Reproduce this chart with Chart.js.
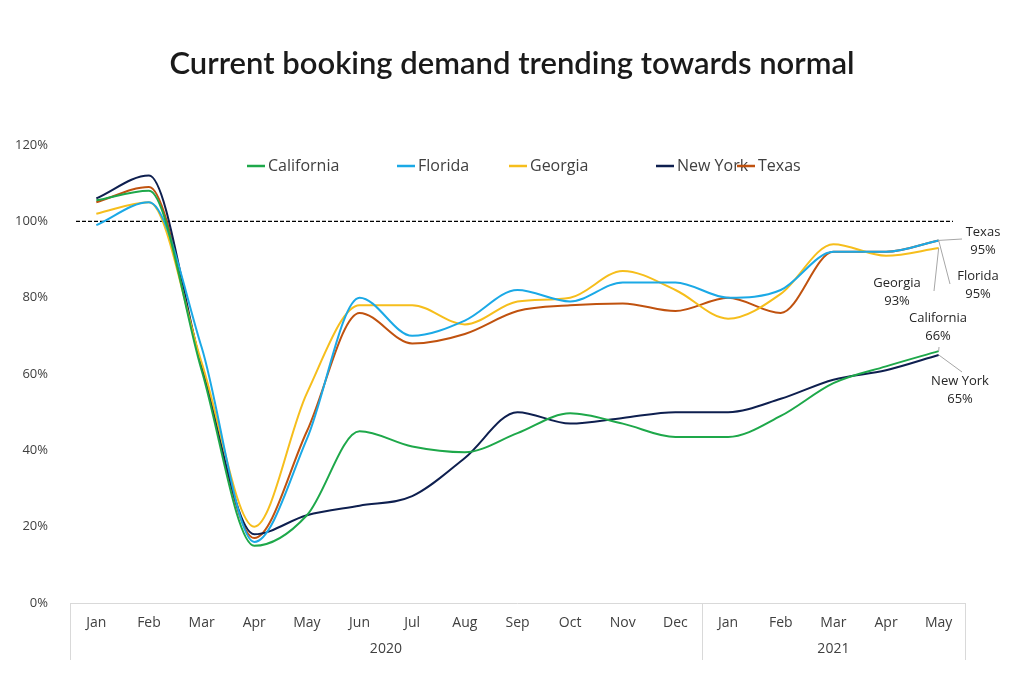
<!DOCTYPE html>
<html><head><meta charset="utf-8">
<script src="https://cdn.jsdelivr.net/npm/chart.js@4"></script>
<style>html,body{margin:0;padding:0;background:#fff}#wrap{width:1024px;height:684px}</style>
</head><body><div id="wrap"><canvas id="c" width="1024" height="684"></canvas></div>
<script>
const months = ['Jan','Feb','Mar','Apr','May','Jun','Jul','Aug','Sep','Oct','Nov','Dec','Jan','Feb','Mar','Apr','May'];
const years = [{label:'2020',from:0,to:11},{label:'2021',from:12,to:16}];
const california = [105.5,108,61,15,23,45,41,39.5,44.5,49.7,47,43.5,43.5,49,57.6,62,66];
const florida = [99,105,67,16,43,80,70,74,82,79,84,84,80,82,92,92,95];
const georgia = [102,105,63,20,55,78,78,73,79,80,87,82,74.5,81,94,91,93];
const newYork = [106,112,62,18,23,25.5,28,38,50,47,48.5,50,50,53.5,58.5,61,65];
const texas = [105,109,62,17,45,76,68,70.5,76.5,78,78.5,76.5,80,76,92,92,95];
const endLabels = [
 {name:'Texas',val:'95%',series:4,tx:983,ty:232,lx2:962,ly2:239},
 {name:'Florida',val:'95%',series:1,tx:978,ty:276,lx2:950,ly2:284},
 {name:'Georgia',val:'93%',series:2,tx:897,ty:283,lx2:934,ly2:291},
 {name:'California',val:'66%',series:0,tx:938,ty:318,lx2:939,ly2:347},
 {name:'New York',val:'65%',series:3,tx:960,ty:381,lx2:962,ly2:372}
];
const title = 'Current booking demand trending towards normal';
const FONT = "'Liberation Sans Narrow','Open Sans','DejaVu Sans Condensed',sans-serif";

const mk = (label,data,color)=>({label,data,borderColor:color,backgroundColor:color,borderWidth:2,pointRadius:0,tension:0.4,cubicInterpolationMode:'monotone',fill:false});

const deco = {
 id:'deco',
 beforeDatasetsDraw(chart){
  const {ctx,scales:{x,y}} = chart;
  ctx.save();
  ctx.strokeStyle='#000';ctx.lineWidth=1.2;ctx.setLineDash([4,2]);
  ctx.beginPath();ctx.moveTo(76,y.getPixelForValue(100));ctx.lineTo(953,y.getPixelForValue(100));ctx.stroke();
  ctx.restore();
 },
 afterDraw(chart){
  const {ctx,scales:{x,y},chartArea:a} = chart;
  ctx.save();
  ctx.fillStyle='#1a1a1a';ctx.font="600 31px Lato, sans-serif";ctx.textAlign='center';ctx.textBaseline='middle';
  ctx.fillText(title,512,64);
  ctx.strokeStyle='#d9d9d9';ctx.lineWidth=1;
  const half=(x.getPixelForValue(1)-x.getPixelForValue(0))/2;
  const bounds=[x.getPixelForValue(0)-half,x.getPixelForValue(12)-half,x.getPixelForValue(16)+half];
  ctx.beginPath();
  bounds.forEach(b=>{ctx.moveTo(Math.round(b)+0.5,a.bottom);ctx.lineTo(Math.round(b)+0.5,660);});
  ctx.moveTo(bounds[0],a.bottom+0.5);ctx.lineTo(bounds[2],a.bottom+0.5);
  ctx.stroke();
  ctx.fillStyle='#404040';ctx.font="14px "+FONT;
  years.forEach(yr=>{const cx=(x.getPixelForValue(yr.from)+x.getPixelForValue(yr.to))/2;ctx.fillText(yr.label,cx,649);});
  const ds=chart.data.datasets;const lx=[268,418,530,677,758];
  ctx.font="16px "+FONT;ctx.textAlign='left';
  ds.forEach((d,i)=>{ctx.strokeStyle=d.borderColor;ctx.lineWidth=2.5;ctx.beginPath();ctx.moveTo(lx[i]-21,166);ctx.lineTo(lx[i]-3,166);ctx.stroke();
   ctx.fillStyle='#404040';ctx.fillText(d.label,lx[i],166);});
  ctx.strokeStyle='#a6a6a6';ctx.lineWidth=1;ctx.fillStyle='#262626';ctx.font="13px "+FONT;ctx.textAlign='center';
  endLabels.forEach(l=>{
   const px=x.getPixelForValue(16),py=y.getPixelForValue(ds[l.series].data[16]);
   ctx.beginPath();ctx.moveTo(px,py);ctx.lineTo(l.lx2,l.ly2);ctx.stroke();
   ctx.fillText(l.name,l.tx,l.ty);ctx.fillText(l.val,l.tx,l.ty+18);
  });
  ctx.restore();
 }
};

new Chart(document.getElementById('c'),{
 type:'line',
 data:{labels:months,datasets:[mk('California',california,'#1ea84a'),mk('Florida',florida,'#1ba9e6'),mk('Georgia',georgia,'#f6be1c'),mk('New York',newYork,'#0e1f4f'),mk('Texas',texas,'#c0520f')]},
 options:{
  responsive:false,animation:false,devicePixelRatio:1,
  layout:{padding:{top:145,right:59,left:0,bottom:0}},
  plugins:{legend:{display:false},tooltip:{enabled:false},title:{display:false}},
  scales:{
   x:{offset:true,grid:{display:false,drawTicks:false},border:{display:false},
      ticks:{color:'#404040',font:{size:14,family:FONT},padding:12,maxRotation:0,autoSkip:false},
      afterFit(s){s.height=81;}},
   y:{min:0,max:120,grid:{display:false},border:{display:false},
      ticks:{stepSize:20,color:'#404040',font:{size:13,family:FONT},padding:14,callback:v=>v+'%'},
      afterFit(s){s.width=70;}}
  }
 },
 plugins:[deco]
});
</script></body></html>
